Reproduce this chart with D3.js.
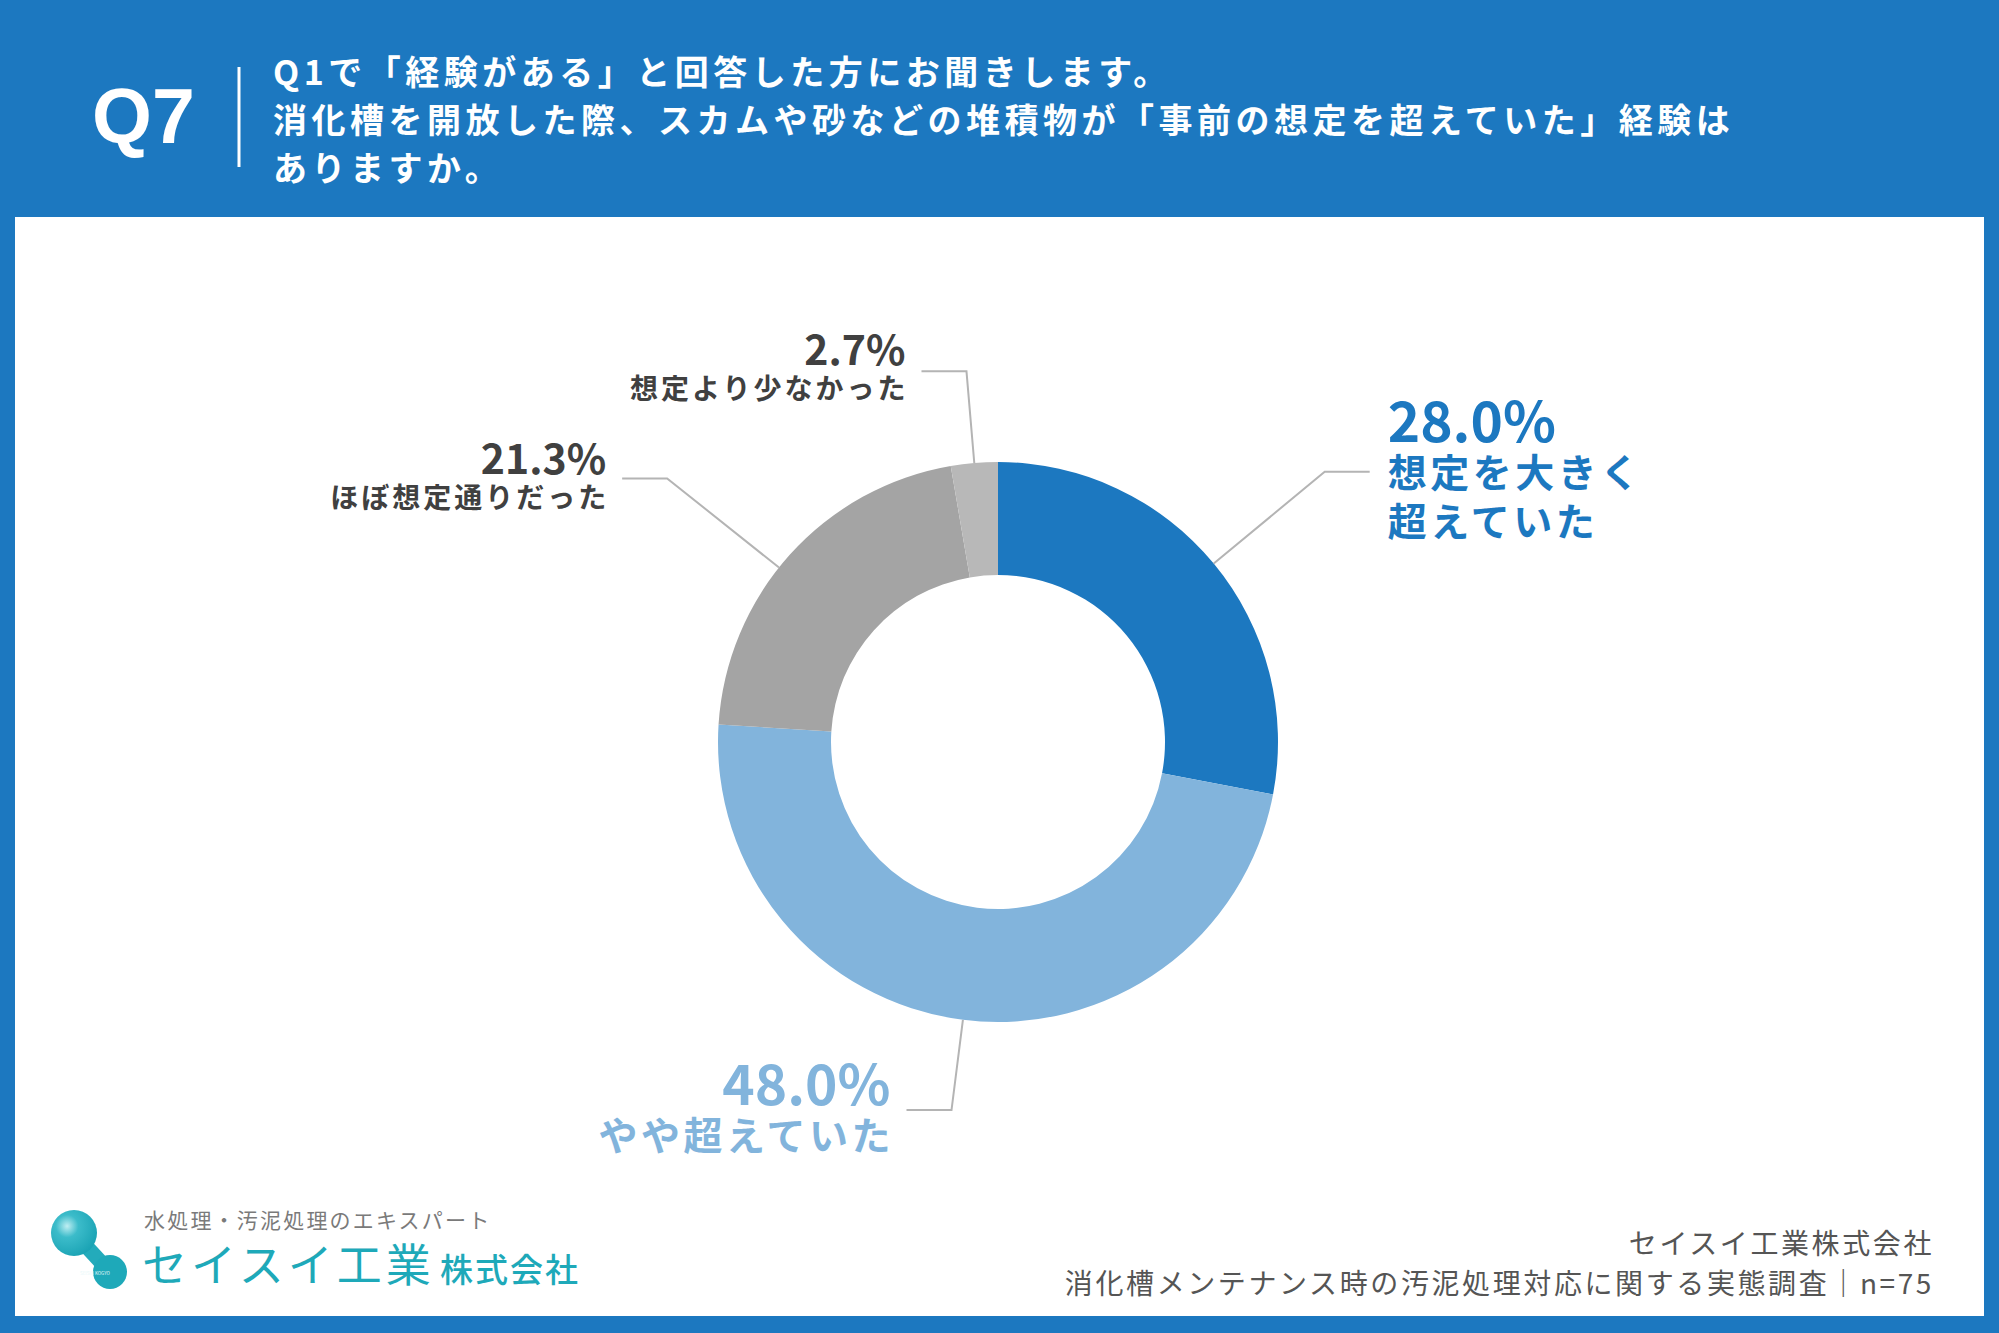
<!DOCTYPE html>
<html>
<head>
<meta charset="utf-8">
<script src="https://cdn.jsdelivr.net/npm/d3@7"></script>
<style>
  html, body { margin: 0; padding: 0; background: #1c78c0; }
  svg { display: block; font-family: "Noto Sans CJK JP", "Noto Sans", sans-serif; }
</style>
</head>
<body>
<div class="graph"></div>
<script>
const questionNo = "Q7";
const questionLines = [
    "Q1で「経験がある」と回答した方にお聞きします。",
    "消化槽を開放した際、スカムや砂などの堆積物が「事前の想定を超えていた」経験は",
    "ありますか。",
];
const categories = ["想定を大きく超えていた", "やや超えていた", "ほぼ想定通りだった", "想定より少なかった"];
const categoryLines = [["想定を大きく", "超えていた"], ["やや超えていた"], ["ほぼ想定通りだった"], ["想定より少なかった"]];
const values = [28.0, 48.0, 21.3, 2.7];
const sourceLines = ["セイスイ工業株式会社", "消化槽メンテナンス時の汚泥処理対応に関する実態調査｜n=75"];

const width = 1999;
const height = 1333;
const blue = "#1c78c0";
const teal = "#1ea9b9";

const color = d3.scaleOrdinal()
        .domain(categories)
        .range([blue, "#82b4dc", "#a4a4a4", "#b8b8b8"]);
const labelColor = d3.scaleOrdinal()
        .domain(categories)
        .range([blue, "#82b4dc", "#404040", "#404040"]);

// label layout: elbow radius, angle shift (deg), big/small type, pct baseline offset from elbow
const labelLayout = [
    {r: 424, shift: 0, big: true, dy: -30},
    {r: 371, shift: 0, big: true, dy: -5},
    {r: 423, shift: -3.4, big: false, dy: -4},
    {r: 372, shift: 0, big: false, dy: -6},
];

const svg = d3.select(".graph")
        .append("svg")
        .attr("width", width)
        .attr("height", height);

// header
svg.append("rect").attr("width", width).attr("height", height).attr("fill", blue);
svg.append("rect")
        .attr("x", 15).attr("y", 217)
        .attr("width", 1969).attr("height", 1099)
        .attr("fill", "#fff");

svg.append("text")
        .attr("x", 92).attr("y", 143)
        .attr("font-family", "'Liberation Sans', Arial, sans-serif")
        .attr("font-size", 77).attr("font-weight", 700)
        .attr("fill", "#fff")
        .text(questionNo);
svg.append("line")
        .attr("x1", 239).attr("x2", 239)
        .attr("y1", 67).attr("y2", 167)
        .attr("stroke", "#fff").attr("stroke-width", 3);
svg.selectAll("text.question")
        .data(questionLines).enter()
        .append("text")
        .attr("class", "question")
        .attr("x", 273)
        .attr("y", (_, i) => 85 + i * 48)
        .attr("font-size", 34).attr("font-weight", 700)
        .attr("letter-spacing", 4.5)
        .attr("fill", "#fff")
        .text(d => d);

// donut
const cx = 998, cy = 742;
const outerR = 280, innerR = 167;
const pie = d3.pie().sort(null).value(d => d.value);
const arcs = pie(categories.map((c, i) => ({category: c, value: values[i], lines: categoryLines[i], layout: labelLayout[i]})));
const arc = d3.arc().innerRadius(innerR).outerRadius(outerR);

const chart = svg.append("g").attr("transform", `translate(${cx},${cy})`);

chart.selectAll("path.slice")
        .data(arcs).enter()
        .append("path")
        .attr("class", "slice")
        .attr("d", arc)
        .attr("fill", d => color(d.data.category));

const polar = (r, a) => [r * Math.sin(a), -r * Math.cos(a)];
const midAngle = d => (d.startAngle + d.endAngle) / 2 + d.data.layout.shift * Math.PI / 180;

const labels = chart.selectAll("g.label")
        .data(arcs).enter()
        .append("g")
        .attr("class", "label");

labels.append("polyline")
        .attr("points", d => {
            const a = midAngle(d);
            const p0 = polar(outerR, a);
            const p1 = polar(d.data.layout.r, a);
            const side = p1[0] > 0 ? 1 : -1;
            const p2 = [p1[0] + side * 45, p1[1]];
            return [p0, p1, p2].map(p => p.join(",")).join(" ");
        })
        .attr("fill", "none")
        .attr("stroke", "#b4b4b4")
        .attr("stroke-width", 2);

labels.each(function (d) {
    const g = d3.select(this);
    const a = midAngle(d);
    const p1 = polar(d.data.layout.r, a);
    const side = p1[0] > 0 ? 1 : -1;
    const x = p1[0] + side * (side > 0 ? 63 : 61);
    const y0 = p1[1] + d.data.layout.dy;
    const big = d.data.layout.big;
    const anchor = side > 0 ? "start" : "end";
    const fill = labelColor(d.data.category);
    const spacing = big ? 3.5 : 3;

    g.append("text")
            .attr("x", x).attr("y", y0)
            .attr("text-anchor", anchor)
            .attr("font-size", big ? 55 : 41)
            .attr("font-weight", 700)
            .attr("fill", fill)
            .text(d.data.value.toFixed(1) + "%");

    g.selectAll("text.sub")
            .data(d.data.lines).enter()
            .append("text")
            .attr("class", "sub")
            .attr("x", side > 0 ? x : x + spacing)
            .attr("y", (_, i) => y0 + (big ? 45 : 34) + i * (big ? 49 : 0))
            .attr("text-anchor", anchor)
            .attr("font-size", big ? 39 : 28)
            .attr("font-weight", 700)
            .attr("letter-spacing", spacing)
            .attr("fill", fill)
            .text(t => t);
});

// footer logo
const defs = svg.append("defs");
const grad = defs.append("radialGradient")
        .attr("id", "ball")
        .attr("cx", "35%").attr("cy", "35%").attr("r", "70%");
grad.append("stop").attr("offset", "0%").attr("stop-color", "#bfeef2");
grad.append("stop").attr("offset", "35%").attr("stop-color", "#3cbcca");
grad.append("stop").attr("offset", "100%").attr("stop-color", "#1aa3b4");

const logo = svg.append("g");
logo.append("line")
        .attr("x1", 74).attr("y1", 1233)
        .attr("x2", 110).attr("y2", 1272)
        .attr("stroke", "#23abbb").attr("stroke-width", 15);
logo.append("circle").attr("cx", 74).attr("cy", 1233).attr("r", 23).attr("fill", "url(#ball)");
logo.append("circle").attr("cx", 110).attr("cy", 1272).attr("r", 17).attr("fill", "#1ea9b9");
logo.append("text")
        .attr("x", 80).attr("y", 1275)
        .attr("font-size", 4.5).attr("fill", "#e8f8fa")
        .text("SEISUI KOGYO");

svg.append("text")
        .attr("x", 144).attr("y", 1228)
        .attr("font-size", 21).attr("letter-spacing", 2.2)
        .attr("fill", "#7a7a7a")
        .text("水処理・汚泥処理のエキスパート");
svg.append("text")
        .attr("x", 142).attr("y", 1282)
        .attr("font-size", 45).attr("font-weight", 400)
        .attr("letter-spacing", 4)
        .attr("fill", teal)
        .text("セイスイ工業");
svg.append("text")
        .attr("x", 440).attr("y", 1282)
        .attr("font-size", 33).attr("font-weight", 500)
        .attr("letter-spacing", 2)
        .attr("fill", teal)
        .text("株式会社");

// source
svg.selectAll("text.source")
        .data(sourceLines).enter()
        .append("text")
        .attr("class", "source")
        .attr("x", 1934)
        .attr("y", (_, i) => 1254 + i * 40)
        .attr("text-anchor", "end")
        .attr("font-size", 28)
        .attr("letter-spacing", 2.6)
        .attr("fill", "#555")
        .text(d => d);
</script>
</body>
</html>
